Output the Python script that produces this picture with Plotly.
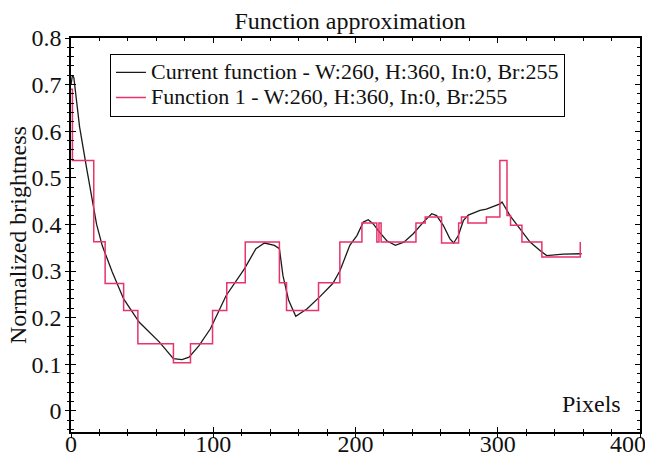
import plotly.graph_objects as go

# Current function (black)
cur_x = [0, 1, 2, 3, 6, 11, 16, 18, 22, 29, 37, 48, 62, 72, 78, 83, 90, 98, 109, 122,
         130, 136, 143, 146.5, 149, 153, 158, 166, 175, 184, 189, 196, 201, 205.5, 209,
         212.5, 217, 222, 228, 234, 240.6, 247.7, 253.6, 257, 261.7, 266.4, 269, 272.3,
         275.8, 279.3, 287.5, 292, 301.6, 303, 308.6, 315.6, 322.7, 329.7, 334.4, 346, 359]
cur_y = [0.70, 0.72, 0.715, 0.69, 0.61, 0.52, 0.43, 0.40, 0.354, 0.298, 0.24, 0.19, 0.148,
         0.112, 0.11, 0.115, 0.14, 0.176, 0.247, 0.305, 0.348, 0.36, 0.355, 0.348, 0.29,
         0.237, 0.203, 0.219, 0.245, 0.273, 0.30, 0.355, 0.376, 0.405, 0.41, 0.401, 0.383,
         0.365, 0.355, 0.362, 0.38, 0.405, 0.423, 0.419, 0.398, 0.369, 0.36, 0.376, 0.408,
         0.42, 0.43, 0.433, 0.444, 0.448, 0.419, 0.39, 0.362, 0.344, 0.333, 0.336, 0.337]

# Function 1 (red step approximation): step start positions and levels
f1_x = [0, 1, 16, 24, 37, 47, 72, 84, 99.5, 109.5, 122.5, 146.5, 151.5, 174, 189, 204.5,
        215, 216.5, 218, 242.5, 249, 260.5, 272.5, 274.5, 279, 292, 301.5, 306.5, 309,
        317, 331, 358]
f1_y = [0.69, 0.537, 0.363, 0.273, 0.215, 0.144, 0.103, 0.144, 0.215, 0.275, 0.362,
        0.275, 0.215, 0.275, 0.362, 0.403, 0.362, 0.403, 0.362, 0.403, 0.416, 0.36,
        0.403, 0.416, 0.403, 0.416, 0.537, 0.419, 0.398, 0.362, 0.33, 0.362]

x_ticks = [0, 100, 200, 300, 400]
x_tick_text = ["0", "100", "200", "300", "400\u2002\u2002"]
y_ticks = [0, 0.1, 0.2, 0.3, 0.4, 0.5, 0.6, 0.7, 0.8]
y_tick_text = ["0", "0.1", "0.2", "0.3", "0.4", "0.5", "0.6", "0.7", "0.8"]

names = ["Current function - W:260, H:360, In:0, Br:255",
         "Function 1 - W:260, H:360, In:0, Br:255"]

FONT = "Liberation Serif"
FS = 24
fig = go.Figure()
fig.add_trace(go.Scatter(x=cur_x, y=cur_y, mode="lines",
                         name="<span style='font-size:22px'>%s</span>" % names[0],
                         line=dict(color="#1a1a1a", width=1.3)))
fig.add_trace(go.Scatter(x=f1_x, y=f1_y, mode="lines", line_shape="hv",
                         name="<span style='font-size:22px'>%s</span>" % names[1],
                         line=dict(color="#e8336b", width=1.5)))
# invisible trace on overlay axes (outside tick halves)
fig.add_trace(go.Scatter(x=[0], y=[0], xaxis="x2", yaxis="y2", mode="markers",
                         marker=dict(opacity=0), showlegend=False, hoverinfo="skip"))

axis_common = dict(showgrid=False, zeroline=False, showline=True, linecolor="black",
                   linewidth=1.5, tickcolor="black", tickwidth=1.2, automargin=False)
fig.update_layout(
    width=653, height=453,
    margin=dict(l=63, r=21, t=30, b=29, autoexpand=False),
    paper_bgcolor="white", plot_bgcolor="white",
    font=dict(family=FONT, size=FS, color="#111"),
    title=dict(text="Function approximation", x=0.524, xanchor="center",
               y=0.99, yanchor="top", font=dict(size=FS, family=FONT)),
    xaxis=dict(range=[0, 400], tickvals=x_ticks, ticktext=x_tick_text, ticks="inside",
               ticklen=5, mirror="ticks", ticklabeloverflow="allow",
               minor=dict(dtick=20, ticks="inside", ticklen=3, tickcolor="black"),
               tickfont=dict(size=FS, family=FONT), ticklabelstandoff=-11, **axis_common),
    yaxis=dict(range=[-0.0455, 0.8], tickvals=y_ticks, ticktext=y_tick_text, ticks="inside",
               ticklen=5, mirror="ticks",
               minor=dict(dtick=0.02, ticks="inside", ticklen=3, tickcolor="black"),
               tickfont=dict(size=FS, family=FONT), ticklabelstandoff=3, **axis_common),
    xaxis2=dict(overlaying="x", side="bottom", anchor="y", range=[0, 400], tickvals=x_ticks,
                ticks="outside", ticklen=5, showticklabels=False, showgrid=False,
                zeroline=False, showline=False, tickcolor="black", tickwidth=1.2,
                automargin=False,
                minor=dict(dtick=20, ticks="outside", ticklen=3, tickcolor="black")),
    yaxis2=dict(overlaying="y", side="left", anchor="x", range=[-0.0455, 0.8], tickvals=y_ticks,
                ticks="outside", ticklen=5, showticklabels=False, showgrid=False,
                zeroline=False, showline=False, tickcolor="black", tickwidth=1.2,
                automargin=False,
                minor=dict(dtick=0.02, ticks="outside", ticklen=3, tickcolor="black")),
    legend=dict(x=0.0685, y=0.96, xanchor="left", yanchor="top", bgcolor="white",
                bordercolor="black", borderwidth=1, font=dict(size=17, family=FONT),
                tracegroupgap=0),
    showlegend=True,
)
fig.add_annotation(text="Normalized brightness", textangle=-90, xref="paper", yref="paper",
                   x=0, y=0.5, xanchor="center", yanchor="middle", xshift=-53,
                   showarrow=False, font=dict(size=FS, family=FONT))
fig.add_annotation(text="Pixels", xref="x", yref="y", x=388, y=0.015, xanchor="right",
                   yanchor="middle", showarrow=False, font=dict(size=FS, family=FONT))
fig.write_html("out.html")
